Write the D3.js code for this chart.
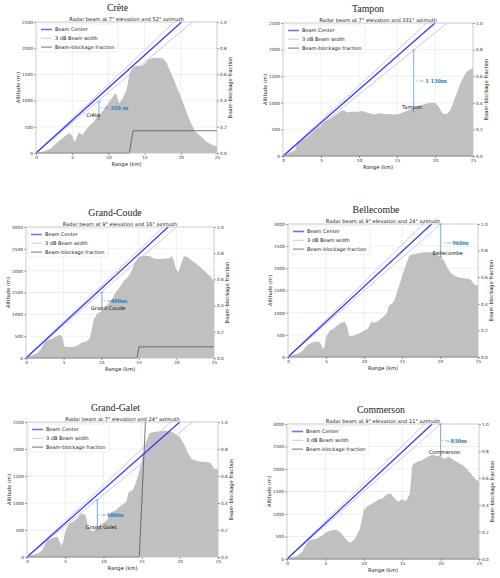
<!DOCTYPE html>
<html>
<head>
<meta charset="utf-8">
<script src="https://cdn.jsdelivr.net/npm/d3@7"></script>
<style>
  body { margin: 0; background: #fff; }
  svg { display: block; }
</style>
</head>
<body>
<div id="chart"></div>
<script>
// ---- data ----
var sites = ["Crête", "Tampon", "Grand-Coude", "Bellecombe", "Grand-Galet", "Commerson"];
var elevations = [7, 7, 9, 9, 7, 9];
var azimuths = [52, 331, 16, 24, 24, 11];
var altMax = [2500, 2500, 3000, 3000, 2500, 3000];
var altTicks = [0, 500, 1000, 1500, 2000, 2500, 3000];
var rangeTicks = [0, 5, 10, 15, 20, 25];
var fracTicks = [0, 0.2, 0.4, 0.6, 0.8, 1.0];

// range (km) where each beam line leaves the top of the panel
var beamCenterTop = [20.1, 20.0, 18.9, 18.9, 20.0, 18.9];
var beamUpperTop = [19.1, 18.9, 18.2, 17.8, 18.8, 17.9];
var beamLowerTop = [21.6, 21.6, 20.0, 20.1, 21.65, 20.0];

var creteTerrain = [[0,0],[1,30],[2,80],[3,210],[4,320],[4.6,375],[5.0,330],[5.35,200],[5.7,330],[6.0,390],[6.4,340],
  [7,460],[7.5,540],[8,600],[8.5,700],[9,760],[9.5,860],[10,950],[10.5,1050],[11,1150],[11.5,950],[12,1050],
  [12.5,1200],[13,1550],[13.5,1650],[14,1660],[14.5,1660],[15,1700],[15.5,1780],[16,1810],[16.5,1820],[17,1820],
  [17.5,1810],[18,1730],[18.5,1570],[19,1420],[19.5,1240],[20,1080],[20.5,890],[21,700],[21.5,540],[22,410],
  [22.5,350],[23,285],[23.5,220],[24,180],[24.5,145],[25,130]];
var tamponTerrain = [[0,10],[1,75],[1.6,110],[1.9,250],[2.5,295],[3,325],[3.5,390],[4,450],[4.5,515],[5,560],
  [5.5,660],[6,680],[6.5,730],[7,780],[7.5,830],[8,860],[8.5,820],[9,830],[9.5,830],[10,830],[10.5,845],[11,820],
  [11.5,800],[12,780],[12.5,800],[13,800],[13.5,785],[14,790],[14.5,780],[15,785],[15.5,800],[16,830],[16.5,860],
  [17,890],[17.5,930],[18,950],[18.5,970],[19,990],[19.5,1000],[20,1000],[20.5,920],[21,800],[21.5,785],[22,860],
  [22.5,1040],[23,1230],[23.5,1420],[24,1550],[24.5,1620],[25,1650]];
var grandCoudeTerrain = [[0,15],[1,75],[1.5,115],[2,205],[2.5,380],[3,420],[3.5,440],[4,495],[4.5,530],[4.8,495],
  [5.1,265],[5.5,250],[6,250],[6.5,265],[7,305],[7.5,355],[8,380],[8.5,455],[9,875],[9.5,1025],[10,1065],
  [10.5,1140],[11,1255],[11.5,1370],[12,1520],[12.5,1630],[13,1770],[13.5,1845],[14,1975],[14.5,2200],[15,2315],
  [15.5,2340],[16,2340],[16.5,2330],[17,2280],[17.5,2265],[18,2270],[18.5,2280],[19,2280],[19.4,2330],[19.7,2200],
  [20,2010],[20.3,1975],[20.7,2200],[21,2330],[21.5,2315],[22,2240],[22.5,2180],[23,2105],[23.5,2035],[24,1950],
  [24.5,1875],[25,1770]];
var bellecombeTerrain = [[0,15],[1,60],[1.5,90],[2,150],[2.5,265],[3,315],[3.5,340],[4,355],[4.3,300],[4.6,175],
  [4.8,225],[5,450],[5.5,600],[6,640],[6.5,715],[7,780],[7.5,790],[7.8,680],[8,490],[8.3,465],[9,510],[9.5,540],
  [10,590],[10.5,640],[11,790],[11.5,780],[12,830],[12.5,905],[13,980],[13.3,1170],[13.8,1220],[14,1280],[14.5,1545],
  [15,1810],[15.5,2075],[16,2300],[16.5,2320],[17,2335],[17.5,2350],[18,2360],[18.5,2360],[19,2360],[19.5,2320],
  [20,2275],[20.5,2185],[21,2000],[21.5,1885],[22,1825],[22.5,1795],[23,1780],[23.5,1770],[24,1755],[24.5,1635],
  [25,1605]];
var grandGaletTerrain = [[0,12],[1,50],[1.5,75],[2,125],[2.5,280],[3,325],[3.5,360],[4,370],[4.3,280],[4.5,205],
  [4.8,310],[5,465],[5.5,620],[6,650],[6.5,710],[7,790],[7.5,800],[7.8,710],[8,555],[8.3,495],[8.7,475],[9,525],
  [9.5,585],[10,630],[10.5,690],[11,835],[11.5,850],[12,915],[12.5,970],[13,1020],[13.3,1200],[13.8,1235],
  [14,1285],[14.5,1480],[15,1760],[15.5,2100],[16,2285],[16.5,2315],[17,2325],[17.5,2330],[18,2340],[18.5,2330],
  [19,2315],[19.5,2270],[20,2220],[20.5,2100],[21,1945],[21.5,1820],[22,1790],[22.5,1770],[23,1765],[23.5,1760],
  [24,1745],[24.5,1635],[25,1625]];
var commersonTerrain = [[0,15],[1,50],[1.5,90],[2,165],[2.5,335],[3,425],[3.5,440],[4,460],[4.5,510],[5,585],
  [5.5,625],[6,645],[6.5,645],[7,585],[7.5,480],[8,385],[8.3,365],[8.7,425],[9,500],[9.5,685],[10,1090],
  [10.5,1180],[11,1225],[11.5,1275],[12,1330],[12.5,1350],[13,1440],[13.5,1460],[14,1350],[14.5,1275],[15,1330],
  [15.5,1290],[16,1460],[16.3,2055],[16.5,2115],[17,2165],[17.5,2190],[18,2240],[18.5,2290],[19,2315],[19.5,2290],
  [20,2280],[20.5,2220],[21,2280],[21.5,2220],[22,2165],[22.5,2115],[23,2070],[23.5,1985],[24,1885],[24.5,1780],
  [25,1720]];
var terrains = [creteTerrain, tamponTerrain, grandCoudeTerrain, bellecombeTerrain, grandGaletTerrain, commersonTerrain];

var creteBlockage = [[0,0],[12.9,0],[13.4,0.17],[25,0.17]];
var tamponBlockage = [[0,0],[25,0]];
var grandCoudeBlockage = [[0,0],[14.8,0],[15.0,0.085],[25,0.085]];
var bellecombeBlockage = [[0,0],[25,0]];
var grandGaletBlockage = [[0,0],[14.7,0],[15.5,1.0]];
var commersonBlockage = [[0,0],[25,0]];
var blockages = [creteBlockage, tamponBlockage, grandCoudeBlockage, bellecombeBlockage, grandGaletBlockage, commersonBlockage];

// clearance annotation: [range km, top m, bottom m], gap text, text anchor [km, m], site label [km, m]
var gapBrackets = [[8.7,980,645],[17.2,1990,830],[10.1,1500,1100],[20.1,3000,2260],[9.2,1060,495],[20.0,3000,2295]];
var gapTexts = ["~ 350 m", "~ 1 130m", "~400m", "~ 960m", "~ 600m", "~ 830m"];
var gapTextPos = [[9.5,867],[18.0,1410],[10.8,1314],[20.9,2580],[9.8,784],[20.6,2635]];
var labelPos = [[7.9,725],[17.0,910],[10.9,1140],[21.0,2340],[9.7,555],[20.5,2370]];

// ---- layout ----
var panels = [
  {l: 36,  r: 217, t: 22,  b: 153, tdx: -9},
  {l: 283, r: 473, t: 23,  b: 156, tdx: -10},
  {l: 26,  r: 214, t: 227, b: 358, tdx: -5},
  {l: 288, r: 478, t: 224, b: 357, tdx: -7},
  {l: 27,  r: 218, t: 422, b: 557, tdx: -7},
  {l: 287, r: 479, t: 424, b: 559, tdx: -2}
];

var sans = "'DejaVu Sans', sans-serif",
  serif = "'Liberation Serif', 'DejaVu Serif', serif",
  terrainFill = "#c0c0c0",
  beamColor = "#3434ff",
  beamWidthColor = "#babaff",
  blockColor = "#555",
  annColor = "#2b7bc0",
  bracketColor = "#6fa3d6";

var svg = d3.select("#chart").append("svg")
  .attr("width", 500)
  .attr("height", 578);

/**
 * Draw one beam / terrain panel
 */
function drawPanel(i) {
  var p = panels[i];
  var x = d3.scaleLinear().domain([0, 25]).range([p.l, p.r]),
    y = d3.scaleLinear().domain([0, altMax[i]]).range([p.b, p.t]),
    yR = d3.scaleLinear().domain([0, 1]).range([p.b, p.t]);
  var g = svg.append("g");
  var yTicks = altTicks.filter(v => v <= altMax[i]);

  // grid
  g.selectAll("line.gx").data(rangeTicks).enter().append("line")
    .attr("x1", d => x(d)).attr("x2", d => x(d))
    .attr("y1", p.t).attr("y2", p.b)
    .attr("stroke", "#e4e4e4").attr("stroke-width", 0.6);
  g.selectAll("line.gy").data(yTicks).enter().append("line")
    .attr("x1", p.l).attr("x2", p.r)
    .attr("y1", d => y(d)).attr("y2", d => y(d))
    .attr("stroke", "#e4e4e4").attr("stroke-width", 0.6);

  // terrain
  g.append("path")
    .datum(terrains[i])
    .attr("d", d3.area().x(d => x(d[0])).y0(p.b).y1(d => y(d[1])))
    .attr("fill", terrainFill);

  // beams
  var beamLine = function(rTop, color, w) {
    g.append("line")
      .attr("x1", x(0)).attr("y1", y(0))
      .attr("x2", x(rTop)).attr("y2", y(altMax[i]))
      .attr("stroke", color).attr("stroke-width", w);
  };
  beamLine(beamUpperTop[i], beamWidthColor, 0.8);
  beamLine(beamLowerTop[i], beamWidthColor, 0.8);
  beamLine(beamCenterTop[i], beamColor, 1.2);

  // beam-blockage fraction (right axis)
  g.append("path")
    .datum(blockages[i])
    .attr("d", d3.line().x(d => x(d[0])).y(d => yR(d[1])))
    .attr("fill", "none")
    .attr("stroke", blockColor)
    .attr("stroke-width", 0.8);

  // frame
  g.append("rect")
    .attr("x", p.l).attr("y", p.t)
    .attr("width", p.r - p.l).attr("height", p.b - p.t)
    .attr("fill", "none").attr("stroke", "#c4c4c4").attr("stroke-width", 0.7);

  // axes
  var styleAxis = function(sel) {
    sel.select(".domain").remove();
    sel.selectAll(".tick line").attr("stroke", "#444").attr("stroke-width", 0.5);
    sel.selectAll(".tick text").attr("fill", "#333")
      .style("font-family", sans).style("font-size", "4.3px");
  };
  g.append("g").attr("transform", "translate(0," + p.b + ")")
    .call(d3.axisBottom(x).tickValues(rangeTicks).tickSize(2).tickPadding(1).tickFormat(d3.format("d")))
    .call(styleAxis);
  g.append("g").attr("transform", "translate(" + p.l + ",0)")
    .call(d3.axisLeft(y).tickValues(yTicks).tickSize(2).tickPadding(1).tickFormat(d3.format("d")))
    .call(styleAxis);
  g.append("g").attr("transform", "translate(" + p.r + ",0)")
    .call(d3.axisRight(yR).tickValues(fracTicks).tickSize(2).tickPadding(1).tickFormat(d3.format(".1f")))
    .call(styleAxis);

  // axis labels
  var my = (p.t + p.b) / 2;
  g.append("text")
    .attr("transform", "translate(" + (p.l - 16) + "," + my + ") rotate(-90)")
    .attr("text-anchor", "middle")
    .style("font-family", sans).style("font-size", "5.2px").attr("fill", "#222")
    .text("Altitude (m)");
  g.append("text")
    .attr("transform", "translate(" + (p.r + 15) + "," + my + ") rotate(-90)")
    .attr("text-anchor", "middle")
    .style("font-family", sans).style("font-size", "5.2px").attr("fill", "#222")
    .text("Beam-blockage fraction");
  g.append("text")
    .attr("x", (p.l + p.r) / 2).attr("y", p.b + 13)
    .attr("text-anchor", "middle")
    .style("font-family", sans).style("font-size", "5.2px").attr("fill", "#222")
    .text("Range (km)");

  // titles
  g.append("text")
    .attr("x", (p.l + p.r) / 2 + p.tdx).attr("y", p.t - 11)
    .attr("text-anchor", "middle")
    .style("font-family", serif).style("font-size", "9.8px").style("font-weight", "normal")
    .attr("fill", "#1a1a1a")
    .text(sites[i]);
  g.append("text")
    .attr("x", (p.l + p.r) / 2).attr("y", p.t - 1.5)
    .attr("text-anchor", "middle")
    .style("font-family", sans).style("font-size", "5.1px").attr("fill", "#222")
    .text("Radar beam at " + elevations[i] + "° elevation and " + azimuths[i] + "° azimuth");

  // clearance bracket
  var br = gapBrackets[i],
    bx = x(br[0]);
  g.append("line")
    .attr("x1", bx).attr("x2", bx).attr("y1", y(br[1])).attr("y2", y(br[2]))
    .attr("stroke", bracketColor).attr("stroke-width", 0.9);
  g.selectAll("line.cap").data([br[1], br[2]]).enter().append("line")
    .attr("x1", bx - 1.5).attr("x2", bx + 1.5)
    .attr("y1", d => y(d)).attr("y2", d => y(d))
    .attr("stroke", bracketColor).attr("stroke-width", 0.8);
  var tp = gapTextPos[i];
  g.append("line")
    .attr("x1", x(tp[0]) - 3.5).attr("x2", x(tp[0]) - 2)
    .attr("y1", y(tp[1])).attr("y2", y(tp[1]))
    .attr("stroke", bracketColor).attr("stroke-width", 0.7);
  g.append("text")
    .attr("x", x(tp[0])).attr("y", y(tp[1]))
    .attr("dy", "0.35em")
    .style("font-family", serif).style("font-size", "7px").style("font-weight", "bold")
    .attr("fill", annColor)
    .text(gapTexts[i]);

  var lp = labelPos[i];
  g.append("text")
    .attr("x", x(lp[0])).attr("y", y(lp[1]))
    .attr("dy", "0.35em").attr("text-anchor", "middle")
    .style("font-family", sans).style("font-size", "5.2px").attr("fill", "#111")
    .text(sites[i].replace("-Galet", " Galet"));

  // legend
  var lg = g.append("g").attr("transform", "translate(" + (p.l + 2) + "," + (p.t + 2) + ")");
  lg.append("rect")
    .attr("width", 80).attr("height", 28).attr("rx", 1.5)
    .attr("fill", "#fff").attr("fill-opacity", 0.85)
    .attr("stroke", "#dcdcdc").attr("stroke-width", 0.5);
  var entries = [
    {name: "Beam Center", color: "#6f6fff", w: 1.6},
    {name: "3 dB Beam width", color: beamWidthColor, w: 0.8},
    {name: "Beam-blockage fraction", color: "#666", w: 0.9}
  ];
  var rows = lg.selectAll("g.row").data(entries).enter().append("g")
    .attr("transform", (d, k) => "translate(0," + (5.5 + 8.8 * k) + ")");
  rows.append("line")
    .attr("x1", 3).attr("x2", 14)
    .attr("stroke", d => d.color).attr("stroke-width", d => d.w);
  rows.append("text")
    .attr("x", 17).attr("dy", "0.35em")
    .style("font-family", sans).style("font-size", "5px").attr("fill", "#222")
    .text(d => d.name);
}

for (var i = 0; i < sites.length; i++) {
  drawPanel(i);
}
</script>
</body>
</html>
